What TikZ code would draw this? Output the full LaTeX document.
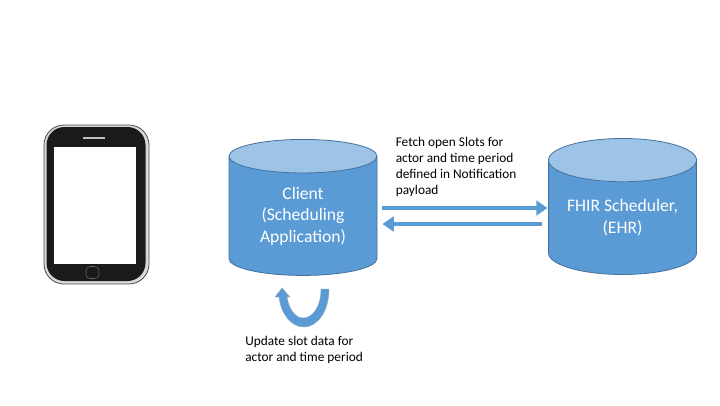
\documentclass[tikz,border=0pt]{standalone}
\usepackage{fontspec}
\setmainfont{Carlito}
\usetikzlibrary{arrows.meta,positioning,shapes.geometric}
\definecolor{cylblue}{HTML}{5B9BD5}
\definecolor{cyltop}{HTML}{9DC3E6}
\definecolor{cylline}{HTML}{41719C}
\definecolor{phoneblack}{HTML}{1A1A1A}
\tikzset{
  dbcyl/.style={draw=cylline,line width=0.6pt,cylinder,shape border rotate=90,aspect=0.39,cylinder uses custom fill,cylinder body fill=cylblue,cylinder end fill=cyltop,minimum width=148*0.75pt,minimum height=136*0.75pt,inner sep=0pt,text=white,align=center,font=\fontsize{13.2}{16}\selectfont},
  blockarrow/.style={draw=cylblue,line width=3.6pt,-{Triangle[length=8.5pt,width=11pt]}},
  note/.style={anchor=north west,align=left,inner sep=0pt,text=black,font=\fontsize{10}{12}\selectfont},
}
\begin{document}
\begin{tikzpicture}[x=0.75pt,y=-0.75pt]
\useasboundingbox (0,0) rectangle (720,405);
\node[draw=black!70,fill=black!15,line width=0.6pt,rounded corners=15pt,minimum width=105*0.75pt,minimum height=159*0.75pt,inner sep=0pt] (phone) at (96.5,204.5) {};
\node[fill=phoneblack,rounded corners=13.5pt,minimum width=99*0.75pt,minimum height=154*0.75pt,inner sep=0pt] (phonebody) at (96,204) {};
\node[fill=white,minimum width=82*0.75pt,minimum height=117*0.75pt,inner sep=0pt] (screen) at (95,205.5) {};
\node[fill=black!25,minimum width=22*0.75pt,minimum height=2.5*0.75pt,inner sep=0pt] (speaker) at (94,138) {};
\node[draw=black!60,rounded corners=3pt,minimum width=13*0.75pt,minimum height=12*0.75pt,inner sep=0pt] (homebtn) at (92.5,272.5) {};
\node[dbcyl] (client) at (303,216) {Client\\(Scheduling\\Application)};
\node[dbcyl] (ehr) at (622.5,217.5) {FHIR Scheduler,\\(EHR)};
\coordinate (fetchstart) at ([xshift=5*0.75pt]client.east |- 0,208);
\coordinate (fetchend) at ([xshift=-0.5*0.75pt]ehr.west |- 0,208);
\coordinate (replystart) at ([xshift=-6*0.75pt]ehr.west |- 0,224);
\coordinate (replyend) at ([xshift=5*0.75pt]client.east |- 0,224);
\draw[blockarrow] (fetchstart) -- (fetchend);
\draw[blockarrow] (replystart) -- (replyend);
\node[note] (fetchnote) at (395.5,136.5) {Fetch open Slots for\\actor and time period\\defined in Notification\\payload};
\node[note] (updatenote) at (245,336) {Update slot data for\\actor and time period};
\fill[cylblue,draw=cylline!60,line width=0.3pt] (329,289) .. controls (329,312) and (317,327) .. (304,327) .. controls (291,327) and (281,314) .. (279,297) -- (275,297) -- (282,288) -- (290,297) -- (287,297) .. controls (289,310) and (296,318) .. (303,318) .. controls (313,318) and (321,306) .. (321,289) -- cycle;
\end{tikzpicture}
\end{document}
